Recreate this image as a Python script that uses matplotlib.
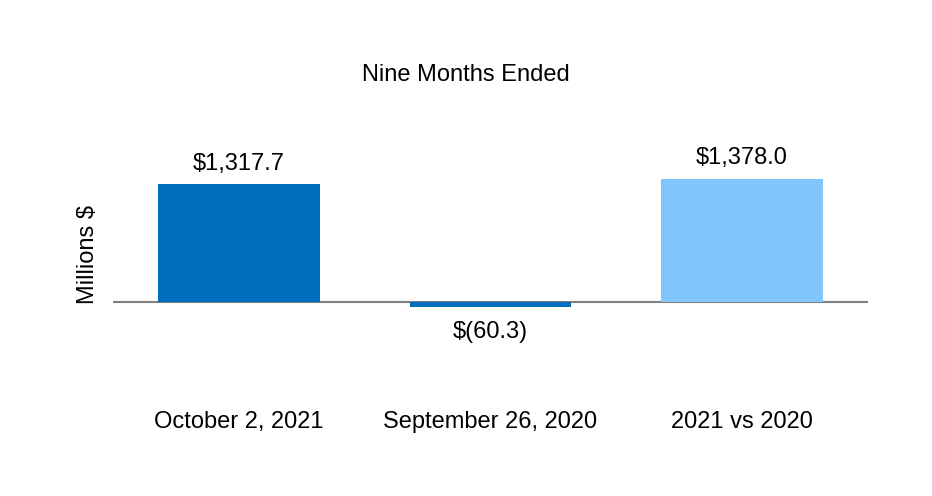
import matplotlib.pyplot as plt

plt.rcParams['font.family'] = ['Liberation Sans', 'DejaVu Sans']

# data
categories = ["October 2, 2021", "September 26, 2020", "2021 vs 2020"]
values = [1317.7, -60.3, 1378.0]
labels = ["$1,317.7", "$(60.3)", "$1,378.0"]
colors = ["#006EBE", "#006EBE", "#80C6FC"]

W, H = 932, 496
fig = plt.figure(figsize=(W / 100, H / 100), dpi=100)

# axes placed in pixel terms: x 113..868, y 110..400 (top-origin)
ax_top, ax_bot = 110, 400
base_px = 301.5
px_per_unit = 0.0889
ymax = (base_px - ax_top) / px_per_unit
ymin = -(ax_bot - base_px) / px_per_unit
ax = fig.add_axes([113 / W, 1 - ax_bot / H, (868 - 113) / W, (ax_bot - ax_top) / H])

x = range(len(categories))
bars = ax.bar(x, values, width=0.643, color=colors)
ax.set_xlim(-0.5, 2.5)
ax.set_ylim(ymin, ymax)
ax.axhline(0, color="#7f7f7f", lw=1.5, zorder=0)

fs = 17
for b, v, lab in zip(bars, values, labels):
    if v >= 0:
        ax.annotate(lab, (b.get_x() + b.get_width() / 2, v), xytext=(0, 7),
                    textcoords="offset points", ha="center", va="bottom", fontsize=fs)
    else:
        ax.annotate(lab, (b.get_x() + b.get_width() / 2, v), xytext=(0, -10),
                    textcoords="offset points", ha="center", va="top", fontsize=fs)

ax.set_xticks(list(x))
ax.set_xticklabels(categories, fontsize=fs)
ax.tick_params(axis="x", length=0, pad=8)
ax.set_yticks([])
for s in ax.spines.values():
    s.set_visible(False)

ax.set_ylabel("Millions $", fontsize=fs)
ax.yaxis.set_label_coords(-0.0185, 0.5)
fig.text(466 / W, 1 - 75 / H, "Nine Months Ended", ha="center", va="center", fontsize=fs)

fig.savefig("out.png", dpi=100)
